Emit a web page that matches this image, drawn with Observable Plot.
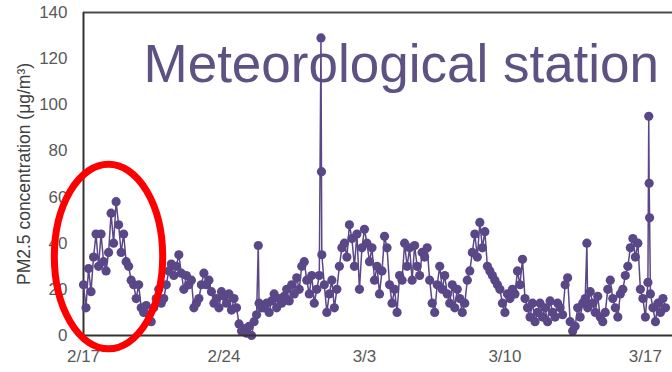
<!DOCTYPE html>
<html>
<head>
<meta charset="utf-8">
<script src="https://cdn.jsdelivr.net/npm/d3@7"></script>
<script src="https://cdn.jsdelivr.net/npm/@observablehq/plot@0.6"></script>
<style>
  html, body { margin: 0; padding: 0; background: #fff; }
  #chart { width: 672px; height: 372px; overflow: hidden; }
</style>
</head>
<body>
<div id="chart"></div>
<script>
// ---- data ----
const startDate = "2015-02-17";
const stepHours = 3;
// PM2.5 every 3 hours from 2/17 00:00
const pm25 = [
  22, 12, 29, 19, 34, 44, 30, 44,
  32, 28, 36, 53, 40, 58, 48, 36,
  44, 32, 30, 24, 22, 16, 22, 12,
  10, 13, 9, 6, 12, 16, 20, 14,
  16, 22, 28, 31, 26, 30, 35, 27,
  20, 26, 22, 24, 12, 14, 16, 22,
  27, 22, 24, 19, 14, 16, 12, 19,
  17, 14, 18, 11, 16, 12, 5, 2,
  3, 1, 4, 0, 6, 9, 14, 12,
  12, 14, 10, 15, 18, 12, 16, 14,
  17, 20, 15, 22, 18, 25, 20, 30,
  32, 24, 18, 26, 14, 20, 26, 35,
  22, 10, 18, 24, 12, 20, 30, 38,
  40, 34, 48, 42, 30, 44, 20, 38,
  46, 40, 32, 38, 24, 30, 18, 28,
  43, 38, 22, 14, 20, 10, 26, 24,
  40, 30, 38, 24, 39, 30, 26, 36,
  34, 38, 24, 14, 10, 22, 30, 20,
  26, 18, 14, 22, 12, 20, 16, 10,
  14, 24, 28, 36, 44, 34, 49, 38,
  45, 30, 28, 26, 24, 22, 20, 14,
  10, 18, 16, 20, 18, 28, 22, 33,
  16, 12, 8, 14, 6, 10, 14, 8,
  12, 6, 15, 10, 8, 14, 12, 9,
  22, 25, 6, 2, 4, 12, 8, 14,
  16, 12, 19, 14, 10, 17, 8, 6,
  10, 20, 24, 16, 12, 8, 18, 20,
  26, 30, 38, 42, 34, 40, 20, 16,
  8, 23, 18, 12, 6, 14, 10, 16,
  12
];
// short spikes: [hours since start, value]
const spikeHours = [209, 284, 284.6, 602, 676, 676.5, 677];
const spikeValues = [39, 129, 71, 40, 95, 66, 51];
const xTickDates = ["2015-02-17", "2015-02-24", "2015-03-03", "2015-03-10", "2015-03-17"];
const yTickValues = [0, 20, 40, 60, 80, 100, 120, 140];
const titleText = "Meteorological station";
const yLabelText = "PM2.5 concentration (μg/m³)";

// ---- build table ----
const t0 = new Date(startDate + "T00:00:00Z").getTime();
const H = 3600 * 1000;
const rows = pm25.map((v, i) => ({t: new Date(t0 + i * stepHours * H), v}))
  .concat(spikeHours.map((h, i) => ({t: new Date(t0 + h * H), v: spikeValues[i]})))
  .sort((a, b) => a.t - b.t);

const xStart = new Date(t0);
const xEnd = new Date(t0 + 29.35 * 24 * H);
const purple = "#5a4787";
const font = "'Liberation Sans', Arial, sans-serif";

const plot = Plot.plot({
  width: 672,
  height: 372,
  marginLeft: 83,
  marginRight: 0,
  marginTop: 12,
  marginBottom: 37,
  style: {fontFamily: font, background: "#fff", overflow: "visible"},
  x: {type: "utc", domain: [xStart, xEnd]},
  y: {domain: [0, 140]},
  marks: [
    Plot.text([titleText], {frameAnchor: "top-left", dx: 60, dy: 53, textAnchor: "start",
      lineAnchor: "middle", fontSize: 53, fill: "#5d5282"}),
    Plot.axisX(xTickDates.map(d => new Date(d + "T00:00:00Z")), {
      tickSize: 0, tickPadding: 14, fontSize: 17, color: "#595959",
      tickFormat: d => `${d.getUTCMonth() + 1}/${d.getUTCDate()}`, label: null
    }),
    Plot.axisY(yTickValues, {tickSize: 0, tickPadding: 16, fontSize: 17, color: "#595959", label: null}),
    Plot.text([yLabelText], {frameAnchor: "left", dx: -59, rotate: -90, textAnchor: "middle",
      lineAnchor: "middle", fontSize: 17.5, fill: "#404040"}),
    Plot.ruleY([140], {stroke: "#4a4a4a", strokeWidth: 2}),
    Plot.ruleX([xStart], {stroke: "#333", strokeWidth: 2}),
    Plot.line(rows, {x: "t", y: "v", stroke: purple, strokeWidth: 1.5}),
    Plot.dot(rows, {x: "t", y: "v", r: 4.6, fill: purple, stroke: "none"}),
    Plot.ruleY([0], {stroke: "#333", strokeWidth: 2})
  ]
});

// red ellipse annotation around the first episode
const circled = {centerHour: 30.5, centerValue: 34, halfDays: 2.7, halfValue: 40};
const sx = plot.scale("x"), sy = plot.scale("y");
const cx = sx.apply(new Date(t0 + circled.centerHour * H));
const cy = sy.apply(circled.centerValue);
const rx = sx.apply(new Date(t0 + (circled.centerHour + circled.halfDays * 24) * H)) - cx;
const ry = cy - sy.apply(circled.centerValue + circled.halfValue);
d3.select(plot).append("ellipse")
  .attr("cx", cx).attr("cy", cy).attr("rx", rx).attr("ry", ry)
  .attr("fill", "none").attr("stroke", "#f00").attr("stroke-width", 7);

document.getElementById("chart").appendChild(plot);
</script>
</body>
</html>
